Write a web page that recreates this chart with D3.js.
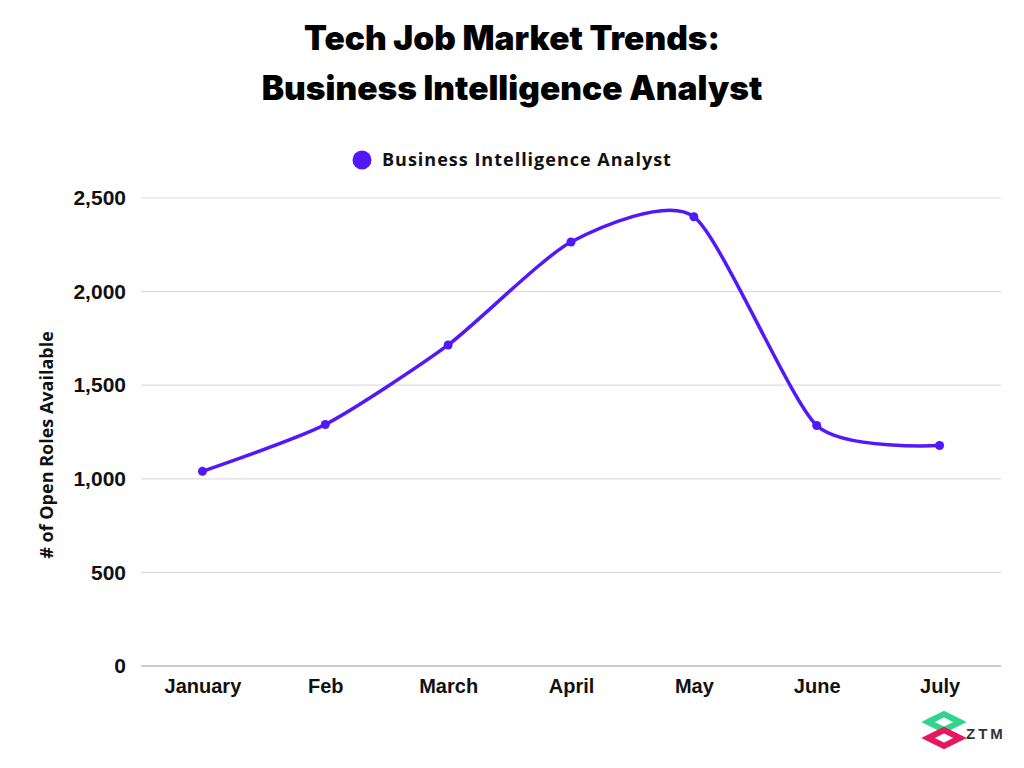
<!DOCTYPE html>
<html>
<head>
<meta charset="utf-8">
<script src="https://cdn.jsdelivr.net/npm/d3@7/dist/d3.min.js"></script>
<style>
body { margin:0; background:#fff; }
svg { display:block; }
</style>
</head>
<body>
<svg id="chart" width="1024" height="768"></svg>
<script>
const titleLines = ["Tech Job Market Trends:", "Business Intelligence Analyst"];
const seriesName = "Business Intelligence Analyst";
const yAxisTitle = "# of Open Roles Available";
const months = ["January", "Feb", "March", "April", "May", "June", "July"];
const openRoles = [1040, 1290, 1715, 2265, 2400, 1285, 1178];
const yTicks = [0, 500, 1000, 1500, 2000, 2500];

const svg = d3.select("#chart");
const lineColor = "#5218f8";

const x = d3.scalePoint().domain(months).range([141, 1001]).padding(0.5);
const y = d3.scaleLinear().domain([0, 2500]).range([666, 198]);

// Title
svg.selectAll("text.title").data(titleLines).enter().append("text")
  .attr("class", "title")
  .attr("x", 512).attr("y", (d, i) => 50 + i * 50)
  .attr("text-anchor", "middle")
  .style("font-family", "Inter, Roboto, sans-serif")
  .style("font-weight", 900)
  .style("font-size", "33.5px")
  .attr("fill", "#000")
  .text(d => d);

// Legend
svg.append("circle").attr("cx", 362).attr("cy", 160).attr("r", 9.5).attr("fill", lineColor);
svg.append("text").attr("x", 382).attr("y", 166)
  .style("font-family", "'Open Sans', sans-serif").style("font-weight", 700).style("font-size", "18px")
  .style("letter-spacing", "1px")
  .attr("fill", "#111").text(seriesName);

// Grid lines
const yAxis = d3.axisLeft(y).tickValues(yTicks).tickFormat(d3.format(",")).tickSize(0).tickPadding(15);
svg.append("g").selectAll("line").data(yTicks).enter().append("line")
  .attr("x1", 141).attr("x2", 1001)
  .attr("y1", d => y(d)).attr("y2", d => y(d))
  .attr("stroke", d => d === 0 ? "#9a9a9a" : "#dedede")
  .attr("stroke-width", 1.2);

const gy = svg.append("g").attr("transform", "translate(141,0)").call(yAxis);
gy.select(".domain").remove();
gy.selectAll("text")
  .style("font-family", "'Liberation Sans', Arial, sans-serif")
  .style("font-weight", 700).style("font-size", "21px").attr("fill", "#111");

const xAxis = d3.axisBottom(x).tickSize(0).tickPadding(13);
const gx = svg.append("g").attr("transform", "translate(0,666)").call(xAxis);
gx.select(".domain").remove();
gx.selectAll("text")
  .style("font-family", "'Liberation Sans', Arial, sans-serif")
  .style("font-weight", 700).style("font-size", "20px").attr("fill", "#111");

// Y axis title
svg.append("text")
  .attr("transform", "translate(53,445) rotate(-90)")
  .attr("text-anchor", "middle")
  .style("font-family", "'Open Sans', sans-serif")
  .style("font-weight", 700).style("font-size", "18px").attr("fill", "#111")
  .text(yAxisTitle);

// Line
const data = months.map((m, i) => ({ m, v: openRoles[i] }));
const line = d3.line().x(d => x(d.m)).y(d => y(d.v)).curve(d3.curveCardinal.tension(0.35));
svg.append("path").datum(data).attr("d", line)
  .attr("fill", "none").attr("stroke", lineColor).attr("stroke-width", 3.5)
  .attr("stroke-linecap", "round").attr("stroke-linejoin", "round");

svg.selectAll("circle.pt").data(data).enter().append("circle")
  .attr("class", "pt").attr("cx", d => x(d.m)).attr("cy", d => y(d.v)).attr("r", 4.5)
  .attr("fill", lineColor);

// Logo
const logo = svg.append("g").attr("transform", "translate(925,712)");
logo.append("path").attr("d", "M3,10 L19,2 L35,10 L19,18 Z")
  .attr("fill", "none").attr("stroke", "#2fd68a").attr("stroke-width", 6).attr("stroke-linejoin", "miter");
logo.append("path").attr("d", "M3,26 L19,18 L35,26 L19,34 Z")
  .attr("fill", "none").attr("stroke", "#e5175f").attr("stroke-width", 6).attr("stroke-linejoin", "miter");
logo.append("text").attr("x", 41).attr("y", 27)
  .style("font-family", "'Liberation Sans', Arial, sans-serif").style("font-weight", 700)
  .style("font-size", "15px").style("letter-spacing", "3px").attr("fill", "#333").text("ZTM");
</script>
</body>
</html>
